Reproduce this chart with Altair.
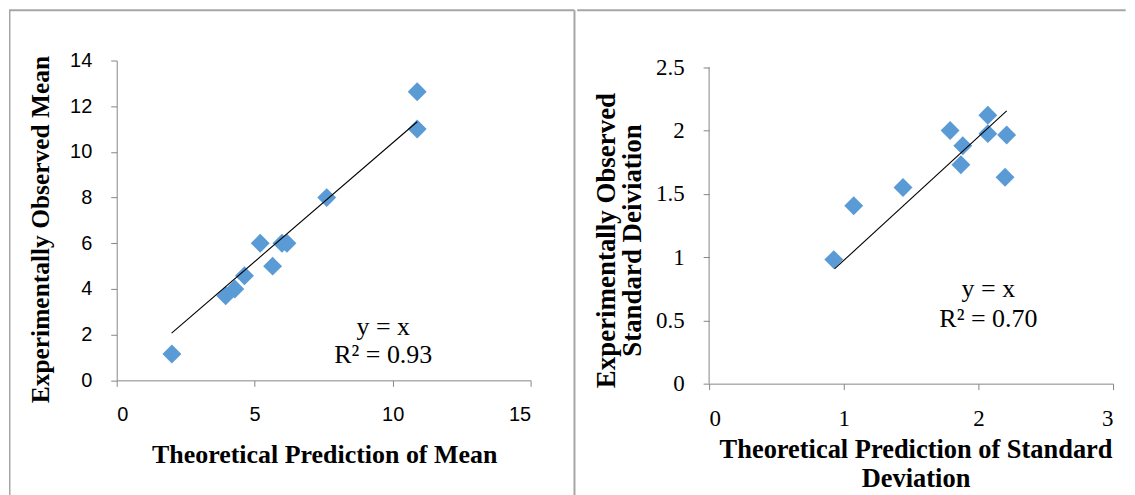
import altair as alt
import pandas as pd

# ---- data ----
mean_theory = [2.0, 3.95, 4.28, 4.63, 5.2, 5.65, 5.99, 6.17, 7.61, 10.89, 10.89]
mean_observed = [1.15, 3.7, 4.0, 4.58, 6.0, 5.0, 6.0, 6.0, 8.0, 12.63, 11.0]
mean_trend_x = [1.99, 10.89]
mean_trend_y = [2.07, 11.32]
mean_ann_text = ["y = x", "R² = 0.93"]
mean_ann_x = [9.66, 9.66]
mean_ann_y = [2.33, 1.09]

sd_theory = [0.926, 1.074, 1.44, 1.79, 1.884, 1.87, 2.07, 2.07, 2.21, 2.198]
sd_observed = [0.98, 1.405, 1.55, 2.0, 1.88, 1.73, 2.12, 1.975, 1.965, 1.63]
sd_trend_x = [0.931, 2.21]
sd_trend_y = [0.906, 2.155]
sd_ann_text = ["y = x", "R² = 0.70"]
sd_ann_x = [2.074, 2.074]
sd_ann_y = [0.749, 0.512]

mean_x_ticks = [0, 5, 10, 15]
mean_y_ticks = [0, 2, 4, 6, 8, 10, 12, 14]
sd_x_ticks = [0, 1, 2, 3]
sd_y_ticks = [0, 0.5, 1, 1.5, 2, 2.5]

BLUE = "#5B9BD5"
AXIS_GRAY = "#868686"
BORDER_GRAY = "#A6A6A6"
SERIF = "Liberation Serif"
SANS = "Liberation Sans"

# page geometry of the plot areas
L_LEFT, TOP = 116, 59.3
L_BOTTOM = 380
R_LEFT = 708.3
R_AXIS_TOP, R_BOTTOM = 66, 383.3
PAGE_L, PAGE_T, PAGE_B, DIV_X, PAGE_R = 8, 9, 495, 575, 1126

LW, LH = 415, L_BOTTOM - TOP
RW, RH = 405, R_BOTTOM - TOP
# the right panel shares the row origin with the left one; its top tick (2.5)
# sits lower, so the y domain reaches a little above 2.5
sd_y_max = 2.5 * RH / (R_BOTTOM - R_AXIS_TOP)

mean_df = pd.DataFrame({"x": mean_theory, "y": mean_observed})
mean_tr = pd.DataFrame({"x": mean_trend_x, "y": mean_trend_y})
mean_ann = pd.DataFrame({"x": mean_ann_x, "y": mean_ann_y, "t": mean_ann_text})
sd_df = pd.DataFrame({"x": sd_theory, "y": sd_observed})
sd_tr = pd.DataFrame({"x": sd_trend_x, "y": sd_trend_y})
sd_ann = pd.DataFrame({"x": sd_ann_x, "y": sd_ann_y, "t": sd_ann_text})
sd_axis = pd.DataFrame({"x": [0], "y": [sd_y_ticks[0]], "y2": [sd_y_ticks[-1]]})
one = pd.DataFrame({"a": [0]})


def panel(df, tr, ann, xs, ys, xaxis, yaxis):
    pts = alt.Chart(df).mark_point(
        shape="diamond", filled=True, size=360, color=BLUE, opacity=1
    ).encode(
        x=alt.X("x:Q", scale=xs, axis=xaxis),
        y=alt.Y("y:Q", scale=ys, axis=yaxis),
    )
    line = alt.Chart(tr).mark_line(color="black", strokeWidth=1.1).encode(
        x=alt.X("x:Q", scale=xs), y=alt.Y("y:Q", scale=ys)
    )
    txt = alt.Chart(ann).mark_text(
        font=SERIF, fontSize=26, color="black", align="center", baseline="middle"
    ).encode(x=alt.X("x:Q", scale=xs), y=alt.Y("y:Q", scale=ys), text="t:N")
    return [pts, line, txt]


left_x_axis = alt.Axis(
    values=mean_x_ticks, format="d", grid=False, tickSize=6, tickColor=AXIS_GRAY,
    domainColor=AXIS_GRAY, labelFont=SANS, labelFontSize=20, labelColor="black",
    labelPadding=18, title="Theoretical Prediction of Mean", titleFont=SERIF,
    titleFontSize=26, titleFontWeight="bold", titleColor="black",
    titleX=208, titleY=82, titleBaseline="alphabetic", titleAlign="center",
)
left_y_axis = alt.Axis(
    values=mean_y_ticks, format="d", grid=False, tickSize=6, tickColor=AXIS_GRAY,
    domainColor=AXIS_GRAY, labelFont=SANS, labelFontSize=20, labelColor="black",
    labelPadding=19, title="Experimentally Observed Mean", titleFont=SERIF,
    titleFontSize=25.5, titleFontWeight="bold", titleColor="black",
    titleX=-76, titleY=169, titleAngle=270, titleBaseline="middle",
    titleAlign="center",
)
right_x_axis = alt.Axis(
    values=sd_x_ticks, format="d", grid=False, tickSize=6, tickColor=AXIS_GRAY,
    domainColor=AXIS_GRAY, labelFont=SERIF, labelFontSize=23, labelColor="black",
    labelPadding=18, title=["Theoretical Prediction of Standard", "Deviation"],
    titleFont=SERIF, titleFontSize=26.5, titleFontWeight="bold", titleColor="black",
    titleX=207, titleY=74, titleBaseline="alphabetic", titleAlign="center",
    titleLineHeight=29,
)
right_y_axis = alt.Axis(
    values=sd_y_ticks, format=".1~f", grid=False, domain=False, tickSize=6,
    tickColor=AXIS_GRAY, labelFont=SERIF, labelFontSize=23, labelColor="black",
    labelPadding=19,
    title=["Experimentally Observed", "Standard Deiviation"], titleFont=SERIF,
    titleFontSize=27, titleFontWeight="bold", titleColor="black",
    titleX=-103, titleY=180, titleAngle=270, titleBaseline="middle",
    titleAlign="center", titleLineHeight=26,
)

# frame lines (drawn as horizontal / vertical rules outside the plot areas)
left_frame = [
    alt.Chart(one).mark_rule(color=BORDER_GRAY, strokeWidth=1.5).encode(
        x=alt.value(PAGE_L + 0.75 - L_LEFT),
        y=alt.value(PAGE_T - TOP), y2=alt.value(PAGE_B - TOP)),
    alt.Chart(one).mark_rule(color=BORDER_GRAY, strokeWidth=2).encode(
        x=alt.value(PAGE_L - L_LEFT), x2=alt.value(DIV_X - L_LEFT),
        y=alt.value(PAGE_T - TOP)),
    alt.Chart(one).mark_rule(color=BORDER_GRAY, strokeWidth=2).encode(
        x=alt.value(DIV_X - L_LEFT),
        y=alt.value(PAGE_T - TOP), y2=alt.value(PAGE_B - TOP)),
]
right_frame = [
    alt.Chart(one).mark_rule(color=BORDER_GRAY, strokeWidth=2).encode(
        x=alt.value(DIV_X + 1 - R_LEFT), x2=alt.value(PAGE_R - R_LEFT),
        y=alt.value(PAGE_T - TOP)),
]

lxs = alt.Scale(domain=[0, 15], nice=False, zero=True)
lys = alt.Scale(domain=[0, 14], nice=False, zero=True)
rxs = alt.Scale(domain=[0, 3], nice=False, zero=True)
rys = alt.Scale(domain=[0, sd_y_max], nice=False, zero=True)

right_domain = alt.Chart(sd_axis).mark_rule(color=AXIS_GRAY, strokeWidth=1).encode(
    x=alt.X("x:Q", scale=rxs), y=alt.Y("y:Q", scale=rys), y2="y2:Q"
)

left = alt.layer(
    *panel(mean_df, mean_tr, mean_ann, lxs, lys, left_x_axis, left_y_axis),
    *left_frame,
).properties(width=LW, height=LH)

right = alt.layer(
    *panel(sd_df, sd_tr, sd_ann, rxs, rys, right_x_axis, right_y_axis),
    right_domain,
    *right_frame,
).properties(width=RW, height=RH)

chart = alt.hconcat(left, right, spacing=0).properties(
    padding=0, background="white"
).configure_view(strokeWidth=0)

chart.save("out.html", embed_options={"renderer": "svg", "actions": False})
